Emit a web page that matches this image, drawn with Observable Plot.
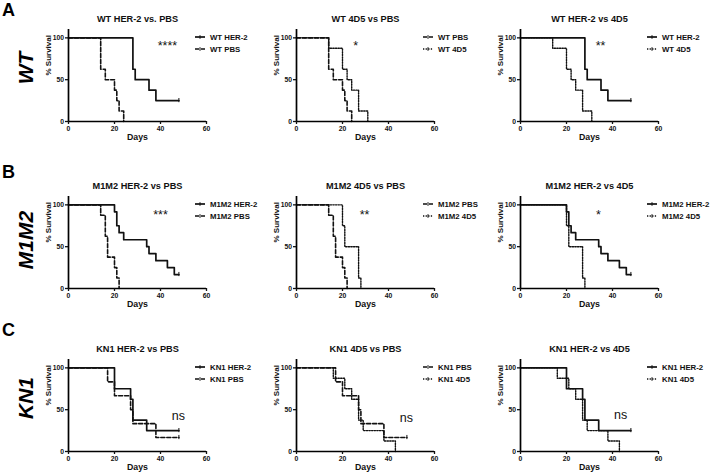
<!DOCTYPE html>
<html>
<head>
<meta charset="utf-8">
<script src="https://cdn.jsdelivr.net/npm/d3@7"></script>
<script src="https://cdn.jsdelivr.net/npm/@observablehq/plot@0.6"></script>
<style>
  html, body { margin: 0; padding: 0; background: #fff; }
  #root { position: relative; width: 717px; height: 476px; overflow: hidden; background: #fff;
          font-family: "Liberation Sans", Arial, Helvetica, sans-serif; }
  .panel { position: absolute; }
  .letter { position: absolute; font-weight: bold; font-size: 18px; line-height: 1; color: #000; }
  .rowlab { position: absolute; font-weight: bold; font-style: italic; font-size: 21px; line-height: 1;
            color: #000; transform: translate(-50%, -50%) rotate(-90deg); white-space: nowrap; }
</style>
</head>
<body>
<div id="root"></div>
<script>
// ---- Data ----
const wtHer2Days = [0, 28, 29, 35, 38, 48];
const wtHer2Surv = [100, 62.5, 50, 37.5, 25, 25];
const wtPbsDays  = [0, 14, 16, 20, 21, 22, 24];
const wtPbsSurv  = [100, 62.5, 50, 37.5, 25, 12.5, 0];
const wt4d5Days  = [0, 14, 20, 22, 24, 27, 31];
const wt4d5Surv  = [100, 87.5, 62.5, 50, 37.5, 12.5, 0];

const m1m2Her2Days = [0, 20, 21, 22, 24, 34, 35, 38, 43, 46, 48];
const m1m2Her2Surv = [100, 91.7, 75, 66.7, 58.3, 50, 41.7, 33.3, 25, 16.7, 16.7];
const m1m2PbsDays  = [0, 14, 16, 17, 20, 21, 22];
const m1m2PbsSurv  = [100, 87.5, 62.5, 37.5, 25, 12.5, 0];
const m1m24d5Days  = [0, 20, 21, 27, 28];
const m1m24d5Surv  = [100, 75, 50, 12.5, 0];

const kn1Her2Days = [0, 20, 27, 28, 34, 48];
const kn1Her2Surv = [100, 75, 62.5, 37.5, 25, 25];
const kn1PbsDays  = [0, 17, 20, 27, 28, 38, 48];
const kn1PbsSurv  = [100, 83.3, 66.7, 50, 33.3, 16.7, 16.7];
const kn14d5Days  = [0, 16, 21, 24, 27, 29, 38, 43];
const kn14d5Surv  = [100, 87.5, 75, 62.5, 37.5, 25, 12.5, 0];

const rowLetters = ["A", "B", "C"];
const rowNames = ["WT", "M1M2", "KN1"];
const titles = [
  ["WT HER-2 vs. PBS", "WT 4D5 vs PBS", "WT HER-2 vs 4D5"],
  ["M1M2 HER-2 vs PBS", "M1M2 4D5 vs PBS", "M1M2 HER-2 vs 4D5"],
  ["KN1 HER-2 vs PBS", "KN1 4D5 vs PBS", "KN1 HER-2 vs 4D5"]
];
const sigLabels = [["****", "*", "**"], ["***", "**", "*"], ["ns", "ns", "ns"]];
const sigDay = [[43, 25.7, 34.8], [40, 29.6, 33.9], [47.8, 47.8, 43.5]];
const sigPct = [[90, 90, 90], [88, 88, 88], [43, 40, 44]];

// ---- Series ----
const S = (name, days, surv, style) => ({name, days, surv, style});
const series = [
  { her2: S("WT HER-2", wtHer2Days, wtHer2Surv, "solid"),
    pbs:  S("WT PBS", wtPbsDays, wtPbsSurv, "dashed"),
    d45:  S("WT 4D5", wt4d5Days, wt4d5Surv, "dotted") },
  { her2: S("M1M2 HER-2", m1m2Her2Days, m1m2Her2Surv, "solid"),
    pbs:  S("M1M2 PBS", m1m2PbsDays, m1m2PbsSurv, "dashed"),
    d45:  S("M1M2 4D5", m1m24d5Days, m1m24d5Surv, "dotted") },
  { her2: S("KN1 HER-2", kn1Her2Days, kn1Her2Surv, "solid"),
    pbs:  S("KN1 PBS", kn1PbsDays, kn1PbsSurv, "dashed"),
    d45:  S("KN1 4D5", kn14d5Days, kn14d5Surv, "dotted") }
];
const comparisons = [["her2", "pbs"], ["pbs", "d45"], ["her2", "d45"]];

// ---- Layout ----
const dash = {solid: null, dashed: "4,2", dotted: "1.3,1.3"};
const width = {solid: 1.7, dashed: 1.6, dotted: 1.4};
const colX0 = [68, 296, 520];
const rowTop = [29, 196, 359];
const ML = 60, MR = 60, MT = 30, MB = 30, PW = 138, PH = 92;
const font = "'Liberation Sans', Arial, Helvetica, sans-serif";

function rows(s) { return s.days.map((d, i) => ({name: s.name, day: d, surv: s.surv[i]})); }

function legendMark(list) {
  return (index, scales, values, dims) => {
    const g = d3.create("svg:g").attr("text-anchor", "start");
    const xr = dims.width - dims.marginRight;
    list.forEach((s, i) => {
      const y = dims.marginTop + 8 + 12 * i;
      g.append("line").attr("x1", xr - 11).attr("x2", xr - 1).attr("y1", y).attr("y2", y)
        .attr("stroke", "#111").attr("stroke-width", width[s.style])
        .attr("stroke-dasharray", dash[s.style]);
      g.append("line").attr("x1", xr - 6).attr("x2", xr - 6).attr("y1", y - 1.8).attr("y2", y + 1.8)
        .attr("stroke", "#111").attr("stroke-width", 1);
      g.append("text").attr("x", xr + 4).attr("y", y).attr("dy", "0.35em")
        .attr("font-size", 7.8).attr("font-weight", "bold").attr("fill", "#111")
        .attr("font-family", font).text(s.name);
    });
    return g.node();
  };
}

const root = document.getElementById("root");

for (let r = 0; r < 3; r++) {
  for (let c = 0; c < 3; c++) {
    const list = comparisons[c].map(k => series[r][k]);
    const marks = [];
    list.forEach(s => {
      marks.push(Plot.line(rows(s), {
        x: "day", y: "surv", curve: "step-after", stroke: "#111",
        strokeWidth: width[s.style], strokeDasharray: dash[s.style]
      }));
      const last = rows(s).slice(-1).filter(d => d.surv > 0);
      marks.push(Plot.ruleX(last, {x: "day", y1: d => d.surv - 2.5, y2: d => d.surv + 2.5, stroke: "#111", strokeWidth: 1}));
    });
    marks.push(
      Plot.ruleY([0], {stroke: "#000", strokeWidth: 1.7}),
      Plot.ruleX([0], {stroke: "#000", strokeWidth: 1.7}),
      Plot.axisX({ticks: 3, tickSize: 3, tickPadding: 2, fontSize: 6.8, fontWeight: "bold", label: null, strokeWidth: 1.3}),
      Plot.axisY({ticks: 2, tickSize: 3, tickPadding: 1.5, fontSize: 6.8, fontWeight: "bold", label: null, strokeWidth: 1.3}),
      Plot.text([titles[r][c]], {frameAnchor: "top", dy: -14, fontSize: 9.2, fontWeight: "bold", fill: "#111"}),
      Plot.text(["Days"], {frameAnchor: "bottom", dy: 18, fontSize: 8.8, fontWeight: "bold", fill: "#111"}),
      Plot.text(["% Survival"], {frameAnchor: "left", dx: -20, rotate: -90, fontSize: 8, fontWeight: "bold", fill: "#111"}),
      Plot.text([sigLabels[r][c]], {x: () => sigDay[r][c], y: () => sigPct[r][c], fontSize: 12.5, fill: "#111"}),
      legendMark(list)
    );
    const svg = Plot.plot({
      width: ML + PW + MR, height: MT + PH + MB,
      marginLeft: ML, marginRight: MR, marginTop: MT, marginBottom: MB,
      style: {background: "transparent", overflow: "visible", fontFamily: font, color: "#111"},
      x: {domain: [0, 60]},
      y: {domain: [0, 110]},
      marks
    });
    svg.classList.add("panel");
    svg.style.left = (colX0[c] - ML) + "px";
    svg.style.top = (rowTop[r] - MT) + "px";
    svg.style.maxWidth = "none";
    root.appendChild(svg);
  }
}

const letterTops = [1, 163, 321];
const labelY = [68, 240, 398];
rowLetters.forEach((L, i) => {
  const d = document.createElement("div");
  d.className = "letter"; d.textContent = L;
  d.style.left = "2px"; d.style.top = letterTops[i] + "px";
  root.appendChild(d);
  const n = document.createElement("div");
  n.className = "rowlab"; n.textContent = rowNames[i];
  n.style.left = "25px"; n.style.top = labelY[i] + "px";
  root.appendChild(n);
});
</script>
</body>
</html>
